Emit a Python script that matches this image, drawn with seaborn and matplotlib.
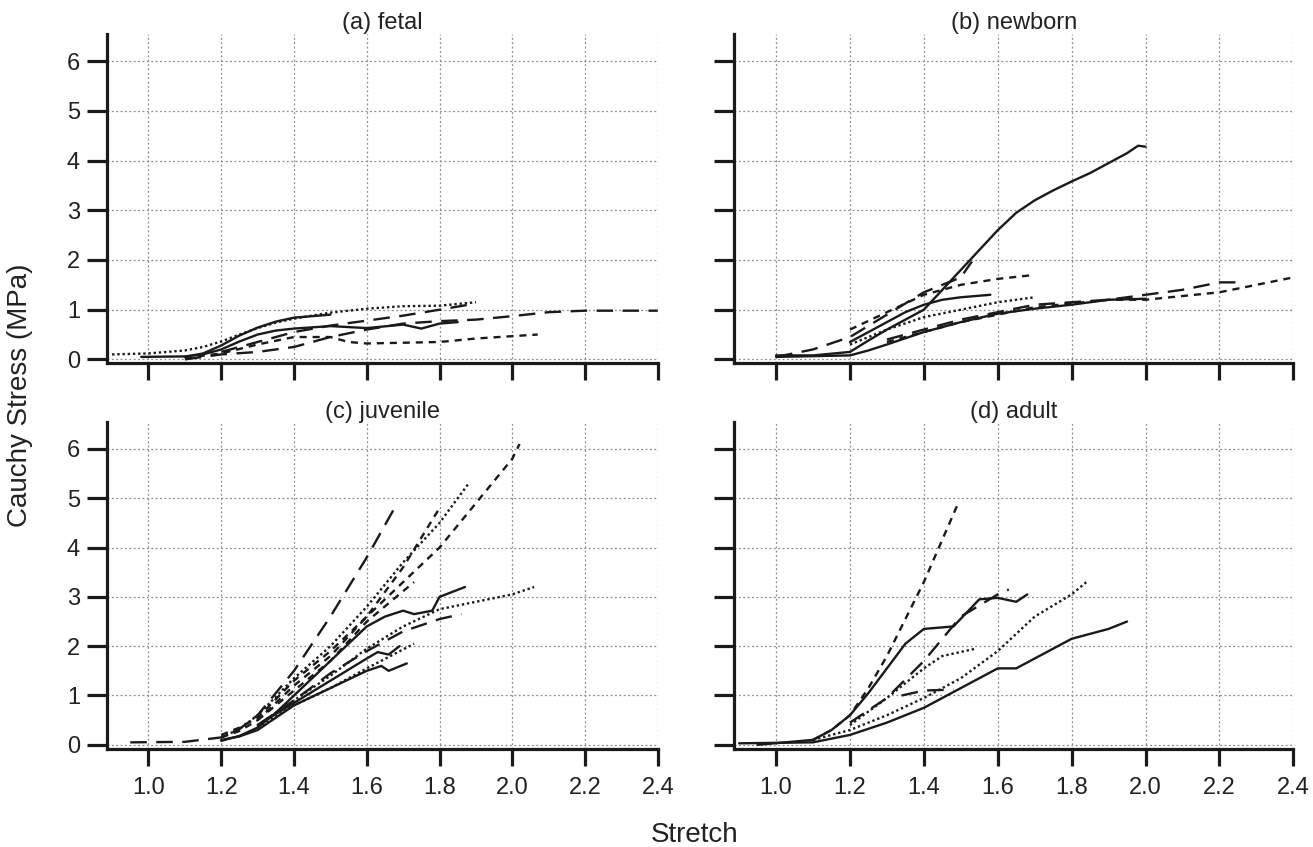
import matplotlib
matplotlib.use("Agg")
import matplotlib.pyplot as plt
import seaborn as sns
import pandas as pd

# ---- data ----
# each curve: stretch values, stress values (MPa)
fetal_curves = {
    "f1": ([0.90, 1.00, 1.10, 1.15, 1.20, 1.25, 1.30, 1.35, 1.40, 1.50, 1.60, 1.70, 1.80, 1.90],
           [0.10, 0.12, 0.18, 0.25, 0.36, 0.50, 0.63, 0.74, 0.82, 0.94, 1.02, 1.07, 1.08, 1.15]),
    "f2": ([1.10, 1.20, 1.30, 1.40, 1.50, 1.60, 1.70, 1.80, 1.90, 2.00, 2.10, 2.20, 2.30, 2.40],
           [0.00, 0.10, 0.15, 0.25, 0.45, 0.60, 0.72, 0.77, 0.80, 0.87, 0.95, 0.98, 0.98, 0.98]),
    "f3": ([0.98, 1.10, 1.15, 1.20, 1.25, 1.30, 1.35, 1.40, 1.50, 1.60, 1.70, 1.75, 1.80, 1.85],
           [0.05, 0.06, 0.10, 0.20, 0.36, 0.50, 0.58, 0.62, 0.67, 0.63, 0.70, 0.62, 0.72, 0.75]),
    "f4": ([1.10, 1.20, 1.30, 1.40, 1.50, 1.55, 1.60, 1.80, 1.90, 2.07],
           [0.03, 0.12, 0.30, 0.45, 0.45, 0.35, 0.32, 0.35, 0.42, 0.50]),
    "f5": ([1.20, 1.30, 1.40, 1.50, 1.60, 1.70, 1.80, 1.88],
           [0.15, 0.35, 0.55, 0.68, 0.78, 0.88, 1.00, 1.10]),
    "f6": ([1.10, 1.15, 1.20, 1.25, 1.30, 1.35, 1.40, 1.50],
           [0.05, 0.12, 0.28, 0.48, 0.64, 0.76, 0.84, 0.90]),
}
fetal_styles = {"f1": "dot", "f2": "long", "f3": "solid", "f4": "short", "f5": "long", "f6": "solid"}

newborn_curves = {
    "n1": ([1.00, 1.10, 1.20, 1.25, 1.30, 1.35, 1.40, 1.45, 1.50, 1.55, 1.60, 1.65, 1.70,
            1.75, 1.80, 1.85, 1.90, 1.95, 1.98, 2.00],
           [0.08, 0.08, 0.15, 0.38, 0.60, 0.80, 1.00, 1.40, 1.80, 2.20, 2.60, 2.95, 3.20,
            3.40, 3.58, 3.75, 3.95, 4.15, 4.30, 4.28]),
    "n2": ([1.00, 1.10, 1.20, 1.30, 1.40, 1.50, 1.53],
           [0.05, 0.20, 0.45, 0.90, 1.35, 1.65, 1.97]),
    "n3": ([1.20, 1.30, 1.40, 1.50, 1.60, 1.70],
           [0.60, 0.95, 1.30, 1.50, 1.62, 1.70]),
    "n4": ([1.20, 1.25, 1.30, 1.35, 1.40, 1.45, 1.50, 1.58],
           [0.35, 0.55, 0.75, 0.95, 1.10, 1.20, 1.25, 1.30]),
    "n5": ([1.20, 1.30, 1.40, 1.50, 1.60, 1.70],
           [0.30, 0.60, 0.85, 1.00, 1.15, 1.25]),
    "n6": ([1.00, 1.20, 1.25, 1.30, 1.40, 1.50, 1.60, 1.70, 1.80, 1.90, 2.00],
           [0.05, 0.08, 0.18, 0.30, 0.55, 0.75, 0.92, 1.02, 1.10, 1.20, 1.22]),
    "n7": ([1.30, 1.50, 1.70, 1.90, 2.00, 2.10, 2.20, 2.25],
           [0.40, 0.80, 1.10, 1.20, 1.30, 1.40, 1.55, 1.55]),
    "n8": ([1.30, 1.50, 1.70, 1.90, 2.00, 2.20, 2.40],
           [0.35, 0.75, 1.05, 1.20, 1.20, 1.35, 1.65]),
}
newborn_styles = {"n1": "solid", "n2": "long", "n3": "short", "n4": "solid",
                  "n5": "dot", "n6": "solid", "n7": "long", "n8": "short"}

juvenile_curves = {
    "j1": ([0.95, 1.10, 1.20, 1.25, 1.30, 1.40, 1.50, 1.60, 1.68],
           [0.05, 0.06, 0.15, 0.32, 0.60, 1.50, 2.60, 3.80, 4.85]),
    "j2": ([1.20, 1.25, 1.30, 1.40, 1.50, 1.60, 1.70, 1.80, 1.90, 2.00, 2.02],
           [0.20, 0.35, 0.55, 1.30, 1.90, 2.60, 3.30, 4.00, 4.90, 5.80, 6.10]),
    "j3": ([1.20, 1.25, 1.30, 1.40, 1.50, 1.60, 1.70, 1.80, 1.88],
           [0.15, 0.32, 0.60, 1.35, 2.00, 2.80, 3.70, 4.50, 5.30]),
    "j4": ([1.20, 1.25, 1.30, 1.40, 1.50, 1.60, 1.70, 1.80],
           [0.15, 0.28, 0.50, 1.20, 1.80, 2.60, 3.60, 4.80]),
    "j5": ([1.30, 1.40, 1.50, 1.60, 1.73],
           [0.50, 1.10, 1.70, 2.50, 3.30]),
    "j6": ([1.20, 1.25, 1.30, 1.35, 1.40, 1.50, 1.60, 1.65, 1.70, 1.73, 1.78, 1.80, 1.87],
           [0.08, 0.18, 0.35, 0.65, 1.00, 1.70, 2.40, 2.60, 2.72, 2.65, 2.72, 3.00, 3.20]),
    "j7": ([1.30, 1.40, 1.50, 1.60, 1.70, 1.80, 1.90, 2.00, 2.06],
           [0.40, 0.90, 1.40, 1.95, 2.40, 2.75, 2.90, 3.05, 3.20]),
    "j8": ([1.30, 1.40, 1.50, 1.60, 1.70, 1.80, 1.86],
           [0.40, 0.90, 1.45, 1.90, 2.30, 2.55, 2.65]),
    "j9": ([1.30, 1.40, 1.50, 1.60, 1.63, 1.66, 1.69],
           [0.40, 0.85, 1.30, 1.75, 1.88, 1.83, 2.00]),
    "j10": ([1.30, 1.40, 1.50, 1.60, 1.73],
            [0.35, 0.80, 1.15, 1.55, 2.05]),
    "j11": ([1.20, 1.25, 1.30, 1.35, 1.40, 1.50, 1.60, 1.64, 1.66, 1.71],
            [0.10, 0.17, 0.30, 0.55, 0.80, 1.15, 1.50, 1.60, 1.50, 1.65]),
}
juvenile_styles = {"j1": "long", "j2": "short", "j3": "dot", "j4": "short", "j5": "short",
                   "j6": "solid", "j7": "dot", "j8": "long", "j9": "solid", "j10": "dot",
                   "j11": "solid"}

adult_curves = {
    "a1": ([1.10, 1.15, 1.20, 1.25, 1.30, 1.40, 1.49],
           [0.10, 0.30, 0.60, 1.15, 1.80, 3.30, 4.85]),
    "a2": ([0.95, 1.10, 1.15, 1.20, 1.25, 1.30, 1.35, 1.40, 1.48, 1.55, 1.60, 1.65, 1.68],
           [0.00, 0.10, 0.30, 0.60, 1.05, 1.55, 2.05, 2.35, 2.40, 2.95, 2.98, 2.90, 3.05]),
    "a3": ([1.20, 1.30, 1.40, 1.50, 1.60, 1.63],
           [0.45, 0.95, 1.70, 2.60, 3.05, 3.15]),
    "a4": ([1.20, 1.30, 1.40, 1.45, 1.54],
           [0.40, 0.95, 1.55, 1.80, 1.95]),
    "a5": ([1.34, 1.40, 1.48],
           [1.00, 1.10, 1.12]),
    "a6": ([1.10, 1.20, 1.30, 1.40, 1.50, 1.60, 1.70, 1.80, 1.84],
           [0.10, 0.30, 0.60, 0.95, 1.35, 1.90, 2.60, 3.05, 3.30]),
    "a7": ([0.90, 1.10, 1.20, 1.30, 1.40, 1.50, 1.60, 1.65, 1.70, 1.80, 1.90, 1.95],
           [0.03, 0.05, 0.20, 0.45, 0.75, 1.15, 1.55, 1.55, 1.75, 2.15, 2.35, 2.50]),
}
adult_styles = {"a1": "short", "a2": "solid", "a3": "long", "a4": "dot",
                "a5": "long", "a6": "dot", "a7": "solid"}

panel_titles = ["(a) fetal", "(b) newborn", "(c) juvenile", "(d) adult"]
x_ticks = [1.0, 1.2, 1.4, 1.6, 1.8, 2.0, 2.2, 2.4]
y_ticks = [0, 1, 2, 3, 4, 5, 6]

DASHES = {"solid": None, "long": (0, (7, 4)), "short": (0, (3, 2.5)), "dot": (0, (1, 1.2))}
INK = "#1a1a1a"

sns.set_theme(style="white")
plt.rcParams["font.family"] = ["Liberation Sans", "DejaVu Sans"]

fig = plt.figure(figsize=(13.13, 8.47), dpi=100)
boxes = [
    [0.0815, 0.571, 0.4195, 0.389],
    [0.559, 0.571, 0.426, 0.389],
    [0.0815, 0.116, 0.4195, 0.386],
    [0.559, 0.116, 0.426, 0.386],
]
panels = [(fetal_curves, fetal_styles), (newborn_curves, newborn_styles),
          (juvenile_curves, juvenile_styles), (adult_curves, adult_styles)]

for i, (box, (curves, styles), title) in enumerate(zip(boxes, panels, panel_titles)):
    ax = fig.add_axes(box)
    for name, (xs, ys) in curves.items():
        df = pd.DataFrame({"stretch": xs, "stress": ys})
        ls = DASHES[styles[name]]
        kw = {} if ls is None else {"linestyle": ls}
        sns.lineplot(data=df, x="stretch", y="stress", ax=ax, color=INK,
                     linewidth=1.7, sort=False, estimator=None, **kw)
    ax.set_xlim(0.886, 2.4)
    ax.set_ylim(-0.08, 6.55)
    ax.set_xticks(x_ticks)
    ax.set_yticks(y_ticks)
    ax.grid(True, color="#8c8c8c", linestyle=(0, (1.5, 2)), linewidth=0.9)
    ax.set_xlabel("")
    ax.set_ylabel("")
    for s in ["top", "right"]:
        ax.spines[s].set_visible(False)
    for s in ["left", "bottom"]:
        ax.spines[s].set_linewidth(2.3)
        ax.spines[s].set_color(INK)
    ax.tick_params(axis="x", direction="out", length=12.5, width=2.3, color=INK,
                   labelsize=17, labelcolor="#222222", pad=8, bottom=True)
    ax.tick_params(axis="y", direction="out", length=14.5, width=2.3, color=INK,
                   labelsize=17, labelcolor="#222222", pad=5, left=True)
    if i < 2:
        ax.tick_params(axis="x", labelbottom=False)
    if i % 2 == 1:
        ax.tick_params(axis="y", labelleft=False)
    ax.set_title(title, fontsize=17, color="#222222", pad=3)

fig.text(0.015, 0.533, "Cauchy Stress (MPa)", rotation=90, ha="center", va="center",
         fontsize=20, color="#222222")
fig.text(0.529, 0.014, "Stretch", ha="center", va="center", fontsize=20, color="#222222")

fig.savefig("out.png", dpi=100)
